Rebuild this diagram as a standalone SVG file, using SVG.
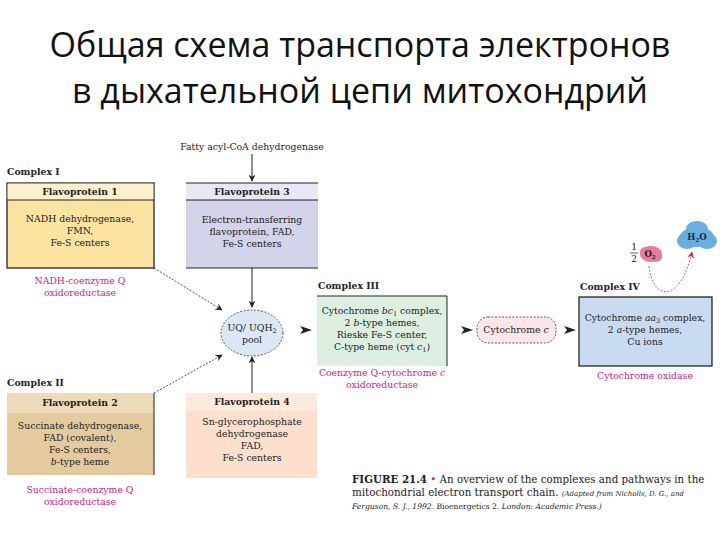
<svg xmlns="http://www.w3.org/2000/svg" width="720" height="540" viewBox="0 0 720 540">
<defs>
<style>
.t{font-family:"DejaVu Serif","Liberation Serif",serif;font-size:9.3px;fill:#222;text-anchor:middle}
.b{font-weight:bold}
.l{text-anchor:start}
.m{fill:#d0208a}
.title{font-family:"Open Sans","Noto Sans",sans-serif;font-size:34px;fill:#111;text-anchor:middle}
.ln{stroke:#222;stroke-width:1;fill:none}
.dl{stroke:#222;stroke-width:0.8;fill:none;stroke-dasharray:2 1.5}
.bx{stroke:#111;stroke-width:1.2}
</style>
<marker id="ah" viewBox="0 0 10 10" refX="9" refY="5" markerWidth="7" markerHeight="7" orient="auto" markerUnits="userSpaceOnUse">
<path d="M0,0 L10,5 L0,10 L3,5 z" fill="#222"/>
</marker>
<marker id="am" viewBox="0 0 10 10" refX="9" refY="5" markerWidth="7" markerHeight="7" orient="auto" markerUnits="userSpaceOnUse">
<path d="M0,0 L10,5 L0,10 L3,5 z" fill="#c0306a"/>
</marker>
</defs>
<rect width="720" height="540" fill="#fff"/>
<g id="title">
<text class="title" x="360" y="57">Общая схема транспорта электронов</text>
<text class="title" x="360" y="103">в дыхательной цепи митохондрий</text>
</g>

<g id="connectors">
<line class="ln" x1="252" y1="154" x2="252" y2="181" marker-end="url(#ah)"/>
<line class="ln" x1="252" y1="268" x2="252" y2="307" marker-end="url(#ah)"/>
<line class="dl" x1="154" y1="268" x2="222" y2="310" marker-end="url(#ah)"/>
<line class="dl" x1="154" y1="393" x2="222" y2="355" marker-end="url(#ah)"/>
<line class="ln" x1="252" y1="393" x2="252" y2="357" marker-end="url(#ah)"/>
<path d="M300,326 L312,330 L300,334 L303,330 z" fill="#222"/>
<path d="M461,326 L473,330 L461,334 L464,330 z" fill="#222"/>
<path d="M564,326 L576,330 L564,334 L567,330 z" fill="#222"/>
<path d="M649,266 C652,300 680,305 692,252" fill="none" stroke="#c0306a" stroke-width="0.8" stroke-dasharray="2 1.5" marker-end="url(#am)"/>
</g>

<g id="fatty">
<text class="t" x="252" y="150">Fatty acyl-CoA dehydrogenase</text>
</g>

<g id="complex1">
<text class="t b l" x="7" y="175">Complex I</text>
<rect x="7" y="183" width="147" height="85" fill="#fbe3a2" class="bx"/>
<rect x="7.6" y="183.6" width="145.8" height="16.4" fill="#fdf0cc"/>
<line class="ln" x1="7" y1="200" x2="154" y2="200"/>
<text class="t b" x="80" y="195">Flavoprotein 1</text>
<text class="t" x="80" y="222">NADH dehydrogenase,</text>
<text class="t" x="80" y="234">FMN,</text>
<text class="t" x="80" y="246">Fe-S centers</text>
<text class="t m" x="80" y="284">NADH-coenzyme Q</text>
<text class="t m" x="80" y="296">oxidoreductase</text>
</g>

<g id="flavoprotein3">
<rect x="186" y="183" width="132" height="85" fill="#d3d3ea"/>
<rect x="186" y="183" width="132" height="17" fill="#e8e8f4"/>
<line class="ln" x1="186" y1="183" x2="318" y2="183" stroke-width="1.3"/>
<line class="ln" x1="186" y1="200" x2="318" y2="200"/>
<line class="ln" x1="186" y1="268" x2="318" y2="268" stroke-width="1.3"/>
<text class="t b" x="252" y="195">Flavoprotein 3</text>
<text class="t" x="252" y="223">Electron-transferring</text>
<text class="t" x="252" y="235">flavoprotein, FAD,</text>
<text class="t" x="252" y="247">Fe-S centers</text>
</g>

<g id="pool">
<ellipse cx="252" cy="333" rx="31" ry="23" fill="#dbe7f3" stroke="#333" stroke-width="0.8" stroke-dasharray="2 1.5"/>
<text class="t" x="252" y="331">UQ/ UQH<tspan font-size="6.5" dy="2">2</tspan></text>
<text class="t" x="252" y="343">pool</text>
</g>

<g id="complex2">
<text class="t b l" x="7" y="386">Complex II</text>
<rect x="7" y="393" width="147" height="82" fill="#e3cb9f"/>
<rect x="7" y="393" width="147" height="20" fill="#ecdab8"/>
<line class="ln" x1="154" y1="393" x2="154" y2="475" stroke-width="1.3"/>
<text class="t b" x="80" y="406">Flavoprotein 2</text>
<text class="t" x="80" y="429">Succinate dehydrogenase,</text>
<text class="t" x="80" y="441">FAD (covalent),</text>
<text class="t" x="80" y="453">Fe-S centers,</text>
<text class="t" x="80" y="465"><tspan font-style="italic">b</tspan>-type heme</text>
<text class="t m" x="80" y="493">Succinate-coenzyme Q</text>
<text class="t m" x="80" y="505">oxidoreductase</text>
</g>

<g id="flavoprotein4">
<rect x="186" y="393" width="131" height="85" fill="#fde0cc"/>
<rect x="186" y="393" width="131" height="18" fill="#feeadc"/>
<text class="t b" x="252" y="405">Flavoprotein 4</text>
<text class="t" x="252" y="425">Sn-glycerophosphate</text>
<text class="t" x="252" y="437">dehydrogenase</text>
<text class="t" x="252" y="449">FAD,</text>
<text class="t" x="252" y="461">Fe-S centers</text>
</g>

<g id="complex3">
<text class="t b l" x="318" y="289">Complex III</text>
<rect x="317" y="296" width="130" height="70" fill="#dcefe0"/>
<path d="M317,296 H447 V366" class="ln" stroke-width="1.3"/>
<text class="t" x="382" y="314">Cytochrome <tspan font-style="italic">bc</tspan><tspan font-size="6.5" dy="2">1</tspan><tspan dy="-2"> complex,</tspan></text>
<text class="t" x="382" y="326">2 <tspan font-style="italic">b</tspan>-type hemes,</text>
<text class="t" x="382" y="338">Rieske Fe-S center,</text>
<text class="t" x="382" y="350">C-type heme (cyt <tspan font-style="italic">c</tspan><tspan font-size="6.5" dy="2">1</tspan><tspan dy="-2">)</tspan></text>
<text class="t m" x="382" y="376">Coenzyme Q-cytochrome <tspan font-style="italic">c</tspan></text>
<text class="t m" x="382" y="388">oxidoreductase</text>
</g>

<g id="cytc">
<rect x="477" y="317" width="79" height="26" rx="11" fill="#fde6ea" stroke="#333" stroke-width="0.8" stroke-dasharray="2 1.5"/>
<text class="t" x="516" y="333">Cytochrome <tspan font-style="italic">c</tspan></text>
</g>

<g id="complex4">
<text class="t b l" x="580" y="290">Complex IV</text>
<rect x="579" y="297" width="133" height="69" fill="#c9dbf1" class="bx"/>
<text class="t" x="645" y="321">Cytochrome <tspan font-style="italic">aa</tspan><tspan font-size="6.5" dy="2">3</tspan><tspan dy="-2"> complex,</tspan></text>
<text class="t" x="645" y="333">2 <tspan font-style="italic">a</tspan>-type hemes,</text>
<text class="t" x="645" y="345">Cu ions</text>
<text class="t m" x="645" y="379">Cytochrome oxidase</text>
</g>

<g id="o2">
<ellipse cx="651" cy="254" rx="11" ry="8" fill="#e87aa0"/>
<ellipse cx="646" cy="252" rx="6" ry="5" fill="#e87aa0"/>
<ellipse cx="656" cy="257" rx="6" ry="5" fill="#e87aa0"/>
<text class="t b" x="650" y="257" style="font-size:8.5px">O<tspan font-size="5.5" dy="1.5">2</tspan></text>
<text class="t" x="634" y="250" style="font-size:9px">1</text>
<line x1="630" y1="253" x2="638" y2="253" stroke="#222" stroke-width="0.7"/>
<text class="t" x="634" y="262" style="font-size:9px">2</text>
</g>

<g id="h2o">
<ellipse cx="697" cy="237" rx="17" ry="10" fill="#6aaee0"/>
<ellipse cx="687" cy="241" rx="10" ry="8" fill="#6aaee0"/>
<ellipse cx="707" cy="241" rx="10" ry="8" fill="#6aaee0"/>
<ellipse cx="697" cy="229" rx="11" ry="8" fill="#6aaee0"/>
<text class="t b" x="697" y="240" style="font-size:8.5px;fill:#1a2a40">H<tspan font-size="5.5" dy="1.5">2</tspan><tspan dy="-1.5">O</tspan></text>
</g>

<g id="caption">
<text class="t l" x="352" y="483" style="font-size:10.3px"><tspan class="b">FIGURE 21.4</tspan><tspan fill="#d0208a"> • </tspan>An overview of the complexes and pathways in the</text>
<text class="t l" x="352" y="496" style="font-size:10.3px">mitochondrial electron transport chain. <tspan font-style="italic" font-size="7">(Adapted from Nicholls, D. G., and</tspan></text>
<text class="t l" x="352" y="509" style="font-size:7.6px"><tspan font-style="italic">Ferguson, S. J., 1992.</tspan> Bioenergetics 2. <tspan font-style="italic">London: Academic Press.)</tspan></text>
</g>
</svg>
